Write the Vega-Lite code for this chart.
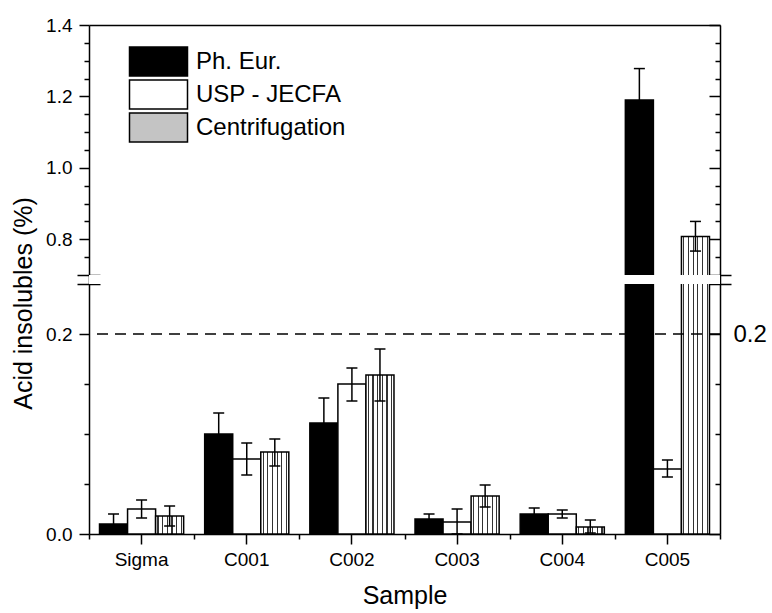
{
  "$schema": "https://vega.github.io/schema/vega-lite/v6.json",
  "width": 631,
  "height": 509,
  "autosize": "none",
  "padding": {"left": 89, "top": 25, "right": 52, "bottom": 79},
  "config": {
    "font": "Liberation Sans",
    "view": {"stroke": null},
    "axis": {"domainColor": "#000", "domainWidth": 1.5, "tickColor": "#000", "tickWidth": 1.5, "labelColor": "#000", "titleColor": "#000", "grid": false, "labelFont": "Liberation Sans", "titleFont": "Liberation Sans", "titleFontWeight": "normal", "zindex": 1},
    "legend": {"orient": "none", "legendX": 54, "legendY": 21, "padding": 0, "symbolType": "M-2,-1L2,-1L2,1L-2,1Z", "symbolSize": 841, "symbolStrokeWidth": 1.5, "symbolOpacity": 1, "labelFont": "Liberation Sans", "labelFontSize": 24, "labelColor": "#000", "labelOffset": 22, "rowPadding": -2.5}
  },
  "datasets": {
    "bars": [
      {"sample": "Sigma", "method": "Ph. Eur.", "value": 0.010, "lo": 0.000, "hi": 0.020},
      {"sample": "Sigma", "method": "USP - JECFA", "value": 0.025, "lo": 0.016, "hi": 0.034},
      {"sample": "Sigma", "method": "Centrifugation", "value": 0.018, "lo": 0.008, "hi": 0.028},
      {"sample": "C001", "method": "Ph. Eur.", "value": 0.100, "lo": 0.080, "hi": 0.121},
      {"sample": "C001", "method": "USP - JECFA", "value": 0.075, "lo": 0.059, "hi": 0.091},
      {"sample": "C001", "method": "Centrifugation", "value": 0.082, "lo": 0.068, "hi": 0.095},
      {"sample": "C002", "method": "Ph. Eur.", "value": 0.111, "lo": 0.087, "hi": 0.136},
      {"sample": "C002", "method": "USP - JECFA", "value": 0.150, "lo": 0.133, "hi": 0.166},
      {"sample": "C002", "method": "Centrifugation", "value": 0.159, "lo": 0.133, "hi": 0.185},
      {"sample": "C003", "method": "Ph. Eur.", "value": 0.015, "lo": 0.010, "hi": 0.020},
      {"sample": "C003", "method": "USP - JECFA", "value": 0.012, "lo": 0.000, "hi": 0.025},
      {"sample": "C003", "method": "Centrifugation", "value": 0.038, "lo": 0.027, "hi": 0.049},
      {"sample": "C004", "method": "Ph. Eur.", "value": 0.020, "lo": 0.015, "hi": 0.026},
      {"sample": "C004", "method": "USP - JECFA", "value": 0.020, "lo": 0.016, "hi": 0.024},
      {"sample": "C004", "method": "Centrifugation", "value": 0.007, "lo": 0.001, "hi": 0.014},
      {"sample": "C005", "method": "Ph. Eur.", "value": 1.19, "lo": 1.10, "hi": 1.278},
      {"sample": "C005", "method": "USP - JECFA", "value": 0.065, "lo": 0.057, "hi": 0.074},
      {"sample": "C005", "method": "Centrifugation", "value": 0.808, "lo": 0.767, "hi": 0.850}
    ],
    "axisbreak": [{"lo": 0.25, "hi": 0.7}],
    "reference": [{"level": 0.2}]
  },
  "data": {"name": "bars"},
  "resolve": {"axis": {"x": "independent", "y": "independent"}},
  "layer": [
    {
      "mark": {"type": "bar", "stroke": "#000", "strokeWidth": 1.5},
      "encoding": {
        "x": {"field": "sample", "type": "nominal",
          "scale": {"domain": ["Sigma", "C001", "C002", "C003", "C004", "C005"], "paddingInner": 0, "paddingOuter": 0},
          "axis": {"orient": "bottom", "title": "Sample", "titleFontSize": 25, "titlePadding": 14, "labelFontSize": 19, "labelAngle": 0, "labelPadding": 6, "tickSize": 10}},
        "xOffset": {"field": "method", "type": "nominal",
          "scale": {"domain": ["Ph. Eur.", "USP - JECFA", "Centrifugation"], "paddingInner": 0, "paddingOuter": 0.375}},
        "y": {"field": "value", "type": "quantitative",
          "scale": {"domain": [0, 0.25, 0.7, 1.4], "range": [509, 259, 250, 0], "nice": false, "zero": false},
          "axis": {"orient": "left", "title": "Acid insolubles (%)", "titleFontSize": 25, "titlePadding": 9, "titleY": 278, "values": [0, 0.2, 0.8, 1.0, 1.2, 1.4], "format": ".1f", "labelFontSize": 19, "labelPadding": 7, "tickSize": 10}},
        "fill": {"field": "method", "type": "nominal",
          "scale": {"domain": ["Ph. Eur.", "USP - JECFA", "Centrifugation"], "range": ["#000000", "#ffffff", "#c4c4c4"]},
          "condition": {"test": "datum.method === 'Centrifugation'", "value": {"gradient": "linear", "x1": 0, "y1": 0, "x2": 1, "y2": 0, "stops": [
            {"offset": 0, "color": "#ffffff"}, {"offset": 0.065, "color": "#ffffff"}, {"offset": 0.065, "color": "#333333"}, {"offset": 0.104, "color": "#333333"}, {"offset": 0.104, "color": "#ffffff"},
            {"offset": 0.2317, "color": "#ffffff"}, {"offset": 0.2317, "color": "#333333"}, {"offset": 0.2707, "color": "#333333"}, {"offset": 0.2707, "color": "#ffffff"},
            {"offset": 0.3983, "color": "#ffffff"}, {"offset": 0.3983, "color": "#333333"}, {"offset": 0.4373, "color": "#333333"}, {"offset": 0.4373, "color": "#ffffff"},
            {"offset": 0.565, "color": "#ffffff"}, {"offset": 0.565, "color": "#333333"}, {"offset": 0.604, "color": "#333333"}, {"offset": 0.604, "color": "#ffffff"},
            {"offset": 0.7317, "color": "#ffffff"}, {"offset": 0.7317, "color": "#333333"}, {"offset": 0.7707, "color": "#333333"}, {"offset": 0.7707, "color": "#ffffff"},
            {"offset": 0.8983, "color": "#ffffff"}, {"offset": 0.8983, "color": "#333333"}, {"offset": 0.9373, "color": "#333333"}, {"offset": 0.9373, "color": "#ffffff"},
            {"offset": 1, "color": "#ffffff"}]}},
          "legend": {"title": null}
        }
      }
    },
    {
      "data": {"name": "axisbreak"},
      "mark": {"type": "rect", "fill": "#ffffff"},
      "encoding": {
        "y": {"field": "lo", "type": "quantitative", "axis": {"orient": "left", "title": null, "values": [0.25, 0.7], "labels": false, "domain": false, "tickSize": 12}},
        "y2": {"field": "hi"}
      }
    },
    {
      "mark": {"type": "rule", "color": "#000", "strokeWidth": 1.5},
      "encoding": {
        "x": {"field": "sample", "type": "nominal", "axis": {"orient": "bottom", "title": null, "labels": false, "domain": false, "tickBand": "extent", "tickSize": 5}},
        "xOffset": {"field": "method", "type": "nominal"},
        "y": {"field": "lo", "type": "quantitative", "axis": {"orient": "left", "title": null, "values": [0.05, 0.1, 0.15, 0.75, 0.85, 0.9, 0.95, 1.05, 1.1, 1.15, 1.25, 1.3, 1.35], "labels": false, "domain": false, "tickSize": 5}},
        "y2": {"field": "hi"}
      }
    },
    {
      "mark": {"type": "tick", "color": "#000", "size": 11, "thickness": 1.5, "opacity": 1},
      "encoding": {
        "x": {"field": "sample", "type": "nominal", "axis": {"orient": "top", "title": null, "labels": false, "ticks": false, "domain": true}},
        "xOffset": {"field": "method", "type": "nominal"},
        "y": {"field": "lo", "type": "quantitative", "axis": {"orient": "right", "title": null, "values": [0, 0.2, 0.8, 1.0, 1.2, 1.4], "labelExpr": "datum.value === 0.2 ? '0.2' : ''", "labelFontSize": 24, "labelPadding": 24, "tickSize": -11}}
      }
    },
    {
      "mark": {"type": "tick", "color": "#000", "size": 11, "thickness": 1.5, "opacity": 1},
      "encoding": {
        "x": {"field": "sample", "type": "nominal", "axis": null},
        "xOffset": {"field": "method", "type": "nominal"},
        "y": {"field": "hi", "type": "quantitative", "axis": {"orient": "right", "title": null, "values": [0.05, 0.1, 0.15, 0.75, 0.85, 0.9, 0.95, 1.05, 1.1, 1.15, 1.25, 1.3, 1.35], "labels": false, "domain": false, "tickSize": -5}}
      }
    },
    {
      "data": {"name": "reference"},
      "mark": {"type": "rule", "color": "#000", "strokeWidth": 1.5, "strokeDash": [11, 7]},
      "encoding": {
        "y": {"field": "level", "type": "quantitative", "axis": {"orient": "right", "title": null, "values": [0.25, 0.7], "labels": false, "domain": false, "tickSize": 11}}
      }
    },
    {
      "data": {"name": "axisbreak"},
      "mark": {"type": "rule", "strokeOpacity": 0},
      "encoding": {
        "y": {"field": "lo", "type": "quantitative", "axis": {"orient": "left", "title": null, "values": [0.25, 0.7], "labels": false, "domain": false, "tickSize": -11}}
      }
    },
    {
      "data": {"name": "axisbreak"},
      "mark": {"type": "rule", "strokeOpacity": 0},
      "encoding": {
        "y": {"field": "hi", "type": "quantitative", "axis": {"orient": "right", "title": null, "values": [0.25, 0.7], "labels": false, "domain": false, "tickSize": -11}}
      }
    }
  ]
}
